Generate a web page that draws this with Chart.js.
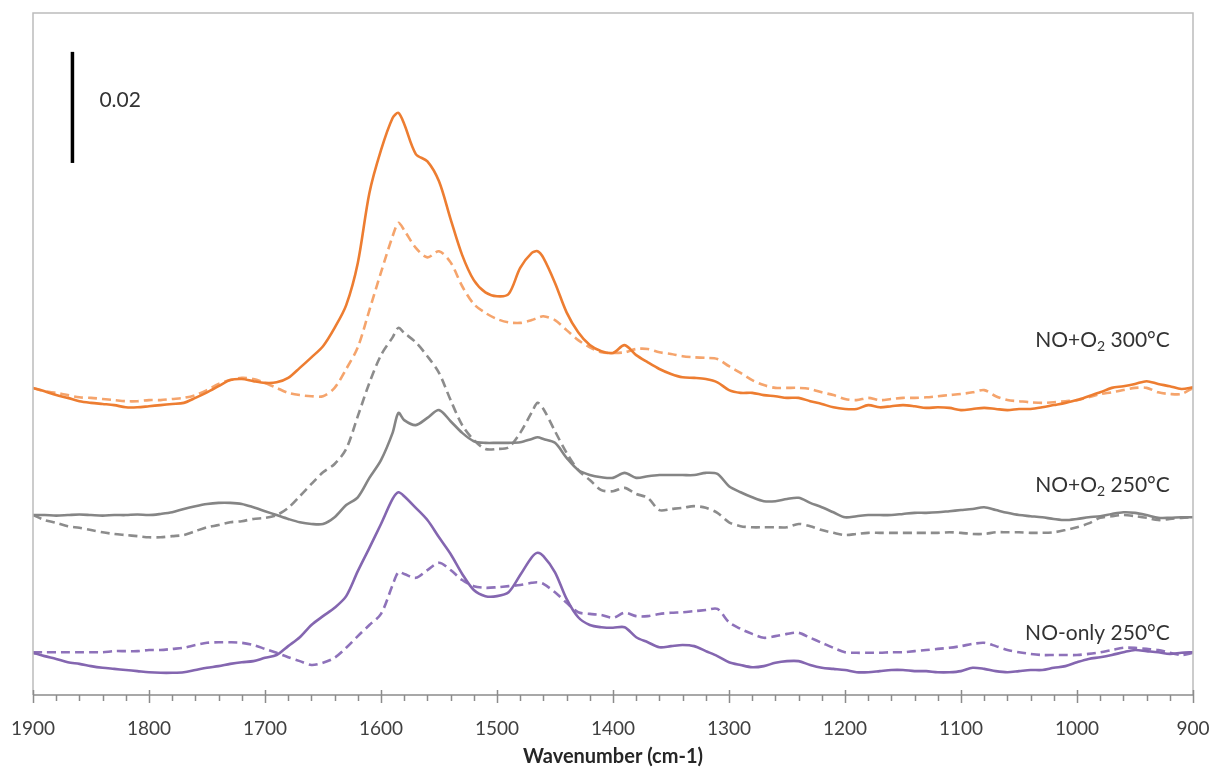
<!DOCTYPE html>
<html>
<head>
<meta charset="utf-8">
<script src="https://cdn.jsdelivr.net/npm/chart.js@4.4.1/dist/chart.umd.min.js"></script>
<style>
  html, body { margin: 0; padding: 0; background: #fff; }
  #wrap { width: 1211px; height: 769px; position: relative; }
</style>
</head>
<body>
<div id="wrap"><canvas id="grafico"></canvas></div>
<script>
// wavenumber grid (cm-1), absorbance values in milli-absorbance units (offset spectra)
const wavenumbers = [1900,1890,1880,1870,1860,1850,1840,1830,1820,1810,1800,1790,1780,1770,1760,1750,1740,1730,1720,1710,1700,1690,1680,1670,1660,1650,1640,1630,1620,1610,1600,1590,1585,1580,1570,1560,1550,1540,1530,1520,1510,1500,1490,1480,1470,1465,1460,1450,1440,1430,1420,1410,1400,1390,1380,1370,1360,1350,1340,1330,1320,1310,1300,1290,1280,1270,1260,1250,1240,1230,1220,1210,1200,1190,1180,1170,1160,1150,1140,1130,1120,1110,1100,1090,1080,1070,1060,1050,1040,1030,1020,1010,1000,990,980,970,960,950,940,930,920,910,900];

// NO+O2 300°C
const no2_300_solid = [55.3,54.7,54.0,53.5,52.9,52.6,52.4,52.2,51.8,51.8,52.0,52.2,52.4,52.6,53.5,54.5,55.6,56.7,56.9,56.5,56.2,56.3,57.1,58.9,60.8,62.8,66.1,70.2,77.8,90.4,98.1,103.9,104.8,102.8,97.4,96.1,92.5,85.7,79.2,74.7,72.5,71.8,72.2,76.9,79.6,79.9,78.7,74.2,68.9,65.3,63.0,61.9,61.6,63.0,61.2,59.9,58.7,57.8,57.2,57.1,56.9,56.3,54.9,54.4,54.4,54.0,53.8,53.5,53.5,52.9,52.4,51.8,51.5,51.5,52.2,51.8,52.0,52.2,52.0,51.7,51.8,51.7,51.3,51.5,51.7,51.5,51.3,51.5,51.5,51.8,52.2,52.6,53.1,53.8,54.5,55.3,55.6,56.0,56.5,56.0,55.6,55.1,55.4];
const no2_300_dash = [55.3,54.7,54.4,54.0,53.6,53.5,53.3,53.1,52.9,52.9,53.1,53.1,53.3,53.5,54.0,54.9,56.0,56.7,57.1,56.9,56.2,55.3,54.4,54.0,53.8,53.8,55.3,58.7,62.6,69.3,76.1,82.6,85.0,83.7,80.5,78.8,79.9,77.9,73.6,70.4,68.8,67.7,67.1,67.0,67.5,67.9,68.2,67.5,65.7,63.9,62.6,61.7,61.6,61.7,62.3,62.3,61.7,61.4,61.0,60.8,60.7,60.5,59.2,58.0,56.7,55.8,55.3,55.3,55.3,55.1,54.5,54.0,53.3,53.1,53.5,53.1,53.3,53.5,53.5,53.6,53.8,54.0,54.2,54.5,54.9,53.8,53.1,52.9,52.7,52.6,52.7,52.9,53.1,53.6,54.2,54.5,54.9,55.3,55.3,54.5,54.2,54.2,55.3];

// NO+O2 250°C
const no2_250_solid = [32.4,32.4,32.3,32.4,32.5,32.4,32.3,32.4,32.4,32.5,32.4,32.6,32.9,33.5,34.0,34.4,34.6,34.6,34.4,33.8,33.1,32.4,31.7,31.1,30.8,30.8,32.0,34.2,35.6,39.1,42.3,47.2,50.8,49.5,48.6,49.9,51.3,49.3,47.2,45.7,45.4,45.4,45.4,45.5,46.1,46.4,46.1,45.4,42.7,40.5,39.6,39.2,39.1,40.0,39.1,39.4,39.6,39.6,39.6,39.6,40.0,39.8,37.6,36.5,35.6,34.9,34.9,35.3,35.5,34.6,33.8,32.9,32.0,32.2,32.4,32.4,32.4,32.6,32.8,32.8,32.9,33.1,33.3,33.5,33.8,33.3,32.8,32.4,32.2,32.0,31.7,31.5,31.7,32.0,32.2,32.6,32.9,32.8,32.4,31.9,31.9,32.0,32.0];
const no2_250_dash = [32.4,31.5,31.0,30.4,30.1,29.7,29.3,29.0,28.8,28.6,28.4,28.4,28.6,28.8,29.5,30.2,30.6,31.1,31.3,31.7,31.9,32.4,33.7,35.8,38.0,40.1,41.6,44.3,50.2,56.2,61.2,64.4,66.1,65.2,63.5,61.0,58.0,53.1,48.6,45.9,44.3,44.3,44.6,47.2,50.9,52.6,51.5,47.5,43.6,40.5,38.7,36.9,36.7,37.3,36.2,35.5,33.3,33.5,33.7,34.0,33.7,32.8,31.1,30.4,30.2,30.2,30.2,30.2,30.8,30.4,29.7,29.2,28.8,29.0,29.2,29.2,29.2,29.2,29.2,29.2,29.2,29.3,29.2,29.0,29.0,29.3,29.3,29.3,29.2,29.2,29.3,29.7,30.2,30.9,31.9,32.2,32.4,32.2,31.9,31.5,31.7,31.9,32.0];

// NO-only 250°C
const no_250_solid = [7.6,7.0,6.5,5.9,5.6,5.2,4.9,4.7,4.5,4.3,4.1,4.0,4.0,4.1,4.5,4.9,5.2,5.6,5.9,6.1,6.7,7.2,8.8,10.4,12.6,14.2,15.7,17.8,22.3,26.5,30.8,35.3,36.5,35.8,33.7,31.5,28.4,25.4,21.8,18.9,17.8,17.8,18.5,21.6,24.8,25.6,25.0,22.1,17.3,14.0,12.6,12.2,12.1,12.2,10.4,9.5,8.6,8.8,9.0,8.8,7.9,7.0,5.9,5.4,5.0,5.2,5.8,6.1,6.1,5.4,4.9,4.7,4.5,4.1,4.1,4.3,4.5,4.5,4.3,4.3,4.1,4.1,4.3,4.9,4.7,4.3,4.1,4.3,4.5,4.5,4.9,5.2,5.9,6.5,6.8,7.2,7.7,8.1,7.9,7.7,7.4,7.6,7.7];
const no_250_dash = [7.7,7.7,7.7,7.7,7.7,7.7,7.7,7.9,7.9,7.9,8.1,8.1,8.3,8.5,9.0,9.4,9.5,9.5,9.4,9.0,8.3,7.6,6.8,6.1,5.4,5.8,6.7,8.5,10.6,12.6,14.6,19.8,22.1,21.8,21.1,22.5,23.8,22.5,20.7,19.6,19.3,19.4,19.6,19.8,20.2,20.3,20.0,18.5,16.6,14.9,14.6,14.4,13.9,14.8,14.2,14.2,14.6,14.8,14.9,15.1,15.3,15.5,13.1,11.9,11.0,10.3,10.6,11.0,11.2,10.3,9.4,8.5,7.7,7.6,7.6,7.6,7.7,7.7,7.9,8.1,8.3,8.5,8.8,9.2,9.4,8.8,8.1,7.7,7.4,7.2,7.2,7.2,7.2,7.4,7.7,8.1,8.5,8.5,8.3,8.1,7.6,7.2,7.6];

const xTickLabels = ["1900","1800","1700","1600","1500","1400","1300","1200","1100","1000","900"];

// etiquetas de las series
const seriesLabels = [
  { parts: ["NO+O", "2", " 300°C"], at: 920, level: 63.9 },
  { parts: ["NO+O", "2", " 250°C"], at: 920, level: 37.8 },
  { parts: ["NO-only 250°C"], at: 920, level: 11.2 }
];
const scaleBar = { at: 1866, from: 95.8, size: 20, text: "0.02" };

function puntos (valores) {
  return wavenumbers.map(function (w, i) { return { x: w, y: valores[i] }; });
}

function serie (valores, color, dashed) {
  return {
    data: puntos(valores),
    borderColor: color,
    borderWidth: 2.6,
    borderDash: dashed ? [9, 5] : [],
    pointRadius: 0,
    tension: 0.3,
    fill: false
  };
}

const decoracion = {
  id: "decoracion",
  afterDraw: function (chart) {
    const ctx = chart.ctx;
    const area = chart.chartArea;
    const xs = chart.scales.x;
    const ys = chart.scales.y;
    ctx.save();
    // marco del area
    ctx.strokeStyle = "#bcbcbc";
    ctx.lineWidth = 1.5;
    ctx.beginPath();
    ctx.moveTo(area.left, area.bottom);
    ctx.lineTo(area.left, area.top);
    ctx.lineTo(area.right, area.top);
    ctx.lineTo(area.right, area.bottom);
    ctx.stroke();
    // eje inferior y marcas
    ctx.strokeStyle = "#8c8c8c";
    ctx.beginPath();
    ctx.moveTo(area.left, area.bottom);
    ctx.lineTo(area.right, area.bottom);
    for (let w = 900; w <= 1900; w += 20) {
      const px = Math.round(xs.getPixelForValue(w)) + 0.5;
      if (w % 100 === 0) {
        ctx.moveTo(px, area.bottom - 5);
        ctx.lineTo(px, area.bottom + 8);
      } else {
        ctx.moveTo(px, area.bottom);
        ctx.lineTo(px, area.bottom + 6);
      }
    }
    ctx.stroke();
    // barra de escala
    const bx = xs.getPixelForValue(scaleBar.at);
    const by1 = ys.getPixelForValue(scaleBar.from);
    const by2 = ys.getPixelForValue(scaleBar.from + scaleBar.size);
    ctx.strokeStyle = "#000";
    ctx.lineWidth = 3.5;
    ctx.beginPath();
    ctx.moveTo(bx, by1);
    ctx.lineTo(bx, by2);
    ctx.stroke();
    ctx.fillStyle = "#333";
    ctx.font = "21px Lato";
    ctx.textBaseline = "middle";
    ctx.textAlign = "left";
    ctx.fillText(scaleBar.text, bx + 27, (by1 + by2) / 2 - 7);
    // etiquetas de las series
    seriesLabels.forEach(function (lab) {
      const big = "21px Lato";
      const small = "14px Lato";
      let total = 0;
      lab.parts.forEach(function (p, i) {
        ctx.font = (i === 1) ? small : big;
        total += ctx.measureText(p).width;
      });
      let px = xs.getPixelForValue(lab.at) - total;
      const py = ys.getPixelForValue(lab.level);
      lab.parts.forEach(function (p, i) {
        ctx.font = (i === 1) ? small : big;
        ctx.fillText(p, px, (i === 1) ? py + 6 : py);
        px += ctx.measureText(p).width;
      });
    });
    ctx.restore();
  }
};

Chart.defaults.font.family = "Lato";
Chart.defaults.color = "#404040";

const ctxGraf = document.getElementById("grafico").getContext("2d");
window.chart1 = new Chart(ctxGraf, {
  type: "line",
  data: {
    datasets: [
      serie(no2_300_solid, "#ed7d31", false),
      serie(no2_300_dash, "#f5a46c", true),
      serie(no2_250_solid, "#858585", false),
      serie(no2_250_dash, "#8c8c8c", true),
      serie(no_250_solid, "#8466b0", false),
      serie(no_250_dash, "#8e72ba", true)
    ]
  },
  options: {
    responsive: true,
    maintainAspectRatio: false,
    animation: false,
    layout: { padding: { left: 33, top: 13, right: 18, bottom: 0 } },
    plugins: {
      legend: { display: false },
      tooltip: { enabled: false }
    },
    scales: {
      x: {
        type: "linear",
        reverse: true,
        min: 900,
        max: 1900,
        grid: { display: false, drawTicks: false, tickLength: 0 },
        border: { display: false },
        afterFit: function (scale) {
          scale.height = 74;
          scale.paddingLeft = 0;
          scale.paddingRight = 0;
        },
        ticks: {
          stepSize: 100,
          padding: 22,
          maxRotation: 0,
          font: { size: 19 },
          color: "#404040",
          callback: function (v) {
            const t = String(v);
            return xTickLabels.indexOf(t) >= 0 ? t : "";
          }
        },
        title: {
          display: true,
          text: "Wavenumber (cm-1)",
          font: { size: 20, weight: "bold" },
          color: "#262626",
          padding: { top: 6, bottom: 0 }
        }
      },
      y: {
        display: false,
        min: 0,
        max: 122.8
      }
    }
  },
  plugins: [decoracion]
});
</script>
</body>
</html>
